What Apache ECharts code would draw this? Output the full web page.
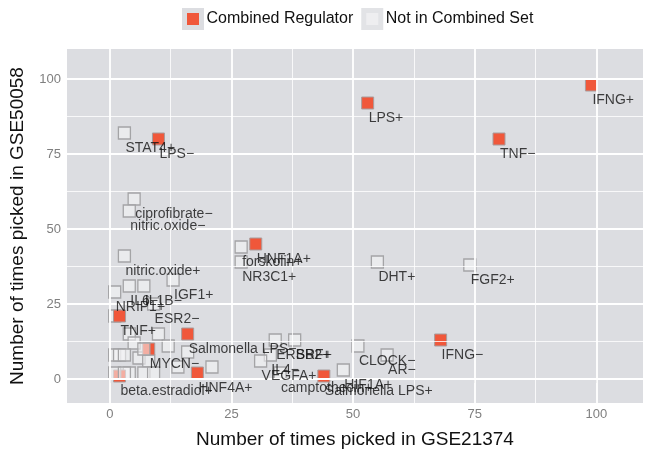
<!DOCTYPE html>
<html><head><meta charset="utf-8">
<script src="https://cdn.jsdelivr.net/npm/echarts@6/dist/echarts.min.js"></script>
<style>html,body{margin:0;padding:0;background:#fff}#c{width:645px;height:454px}</style>
</head><body><div id="c"></div>
<script>
// ---- data ----
const combinedNames = ['IFNG+','LPS+','TNF−','LPS−','HNF1A+','TNF+','Salmonella LPS−','IFNG−','MYCN−','HNF4A+','beta.estradiol+','Salmonella LPS+'];
const combinedX = [99,53,80,10,30,2,16,68,8,18,2,44];
const combinedY = [98,92,80,80,45,21,15,13,10,2,1,1];

const otherNames = ['STAT4+','ciprofibrate−','nitric.oxide−','forskolin+','NR3C1+','DHT+','FGF2+','nitric.oxide+','IGF1+','IL6−','IL1B−','NRIP1+','ESR2−','ERBB2+','SRF+','IL4−','VEGFA+','camptothecin+','HIF1A+','CLOCK−','AR−',
  '','','','','','','','','','','','','','','',''];
const otherX = [3,5,4,27,27,55,74,3,13,4,7,1,9,34,38,33,31,35,48,51,57,
  1,4,5,10,12,1,2,3,6,8,4,7,9,14,16,21];
const otherY = [82,60,56,44,39,39,38,41,33,31,31,29,25,13,13,8,6,2,3,11,8,
  21,15,12,15,11,8,8,8,7,6,2,2,2,4,9,4];
// grey squares that lie over red ones
const frontX = [7,1,3];
const frontY = [10,2,2];

const xMajor = [0,25,50,75,100];
const xMinor = [12.5,37.5,62.5,87.5];
const yMajor = [0,25,50,75,100];
const yMinor = [12.5,37.5,62.5,87.5];

// ---- chart ----
const FONT = '"Liberation Sans", Arial, sans-serif';
const RED = '#F0573A';
const PANEL = '#DCDDE1';
const pts = (xs, ys, ns) => xs.map((x, i) => ({value: [x, ys[i]], name: ns ? ns[i] : ''}));
const allLabels = pts(combinedX, combinedY, combinedNames).concat(pts(otherX, otherY, otherNames)).filter(d => d.name);

const gridLines = []
  .concat(xMajor.map(v => ({xAxis: v, lineStyle: {width: 1.8}})))
  .concat(xMinor.map(v => ({xAxis: v, lineStyle: {width: 0.8}})))
  .concat(yMajor.map(v => ({yAxis: v, lineStyle: {width: 1.8}})))
  .concat(yMinor.map(v => ({yAxis: v, lineStyle: {width: 0.8}})));

const greyStyle = {color: 'rgba(246,246,248,0.55)', borderColor: '#A4A4A6', borderWidth: 1.3, opacity: 1};

const chart = echarts.init(document.getElementById('c'), null, {renderer: 'canvas'});
chart.setOption({
  animation: false,
  textStyle: {fontFamily: FONT},
  grid: {left: 62, right: 2, top: 49, bottom: 51, show: true, backgroundColor: PANEL, borderWidth: 0},
  legend: {
    left: 177, top: 3, itemGap: 8, itemWidth: 17, itemHeight: 17,
    textStyle: {fontSize: 16, color: '#111', fontFamily: FONT},
    data: [
      {name: 'Combined Regulator', icon: 'rect', itemStyle: {color: RED, borderColor: PANEL, borderWidth: 5, opacity: 1}},
      {name: 'Not in Combined Set', icon: 'rect', itemStyle: {color: '#EEEEF0', borderColor: '#E2E3E6', borderWidth: 5, opacity: 1}}
    ]
  },
  xAxis: {
    type: 'value', min: -8.8, max: 109.6,
    name: 'Number of times picked in GSE21374', nameLocation: 'middle', nameGap: 27,
    nameTextStyle: {fontSize: 19, color: '#111', fontFamily: FONT},
    axisLine: {show: false}, splitLine: {show: false},
    axisTick: {show: true, customValues: xMajor, length: 4, lineStyle: {color: '#7F7F7F', width: 1}},
    axisLabel: {customValues: xMajor, fontSize: 13, color: '#7F7F7F', margin: 5, fontFamily: FONT}
  },
  yAxis: {
    type: 'value', min: -8, max: 110,
    name: 'Number of times picked in GSE50058', nameLocation: 'middle', nameGap: 40, nameRotate: 90,
    nameTextStyle: {fontSize: 19, color: '#111', fontFamily: FONT},
    axisLine: {show: false}, splitLine: {show: false},
    axisTick: {show: true, customValues: yMajor, length: 4, lineStyle: {color: '#7F7F7F', width: 1}},
    axisLabel: {customValues: yMajor, fontSize: 13, color: '#7F7F7F', margin: 6, fontFamily: FONT}
  },
  series: [
    {type: 'scatter', name: 'grid', data: [], z: 1, silent: true,
     markLine: {symbol: 'none', silent: true, animation: false, label: {show: false},
       lineStyle: {color: '#FFFFFF', type: 'solid', opacity: 1}, emphasis: {disabled: true}, data: gridLines}},
    {type: 'scatter', name: 'Not in Combined Set', z: 2, symbol: 'rect', symbolSize: 12, silent: true,
     itemStyle: greyStyle, data: pts(otherX, otherY)},
    {type: 'scatter', name: 'Combined Regulator', z: 3, symbol: 'rect', symbolSize: 12, silent: true,
     itemStyle: {color: RED, borderColor: '#A89C9C', borderWidth: 1, opacity: 1},
     data: pts(combinedX, combinedY)},
    {type: 'scatter', name: 'Not in Combined Set', z: 4, symbol: 'rect', symbolSize: 12, silent: true,
     itemStyle: greyStyle, data: pts(frontX, frontY)},
    {type: 'scatter', name: 'labels', z: 5, symbol: 'rect', symbolSize: 12, silent: true,
     itemStyle: {color: 'transparent'},
     label: {show: true, formatter: '{b}', position: [7, 21.5], align: 'left', verticalAlign: 'middle',
       fontSize: 14, color: '#111', fontFamily: FONT},
     labelLayout: {hideOverlap: false},
     data: allLabels}
  ]
});
</script></body></html>
